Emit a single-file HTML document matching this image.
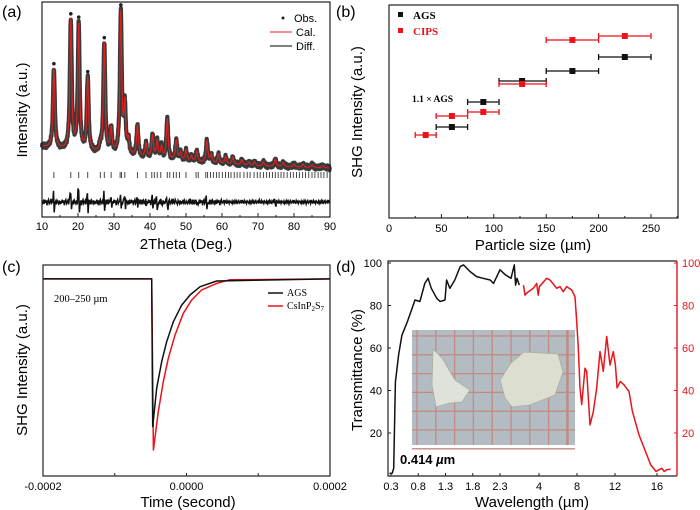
<!DOCTYPE html>
<html><head><meta charset="utf-8"><style>
html,body{margin:0;padding:0;background:#fff;width:700px;height:510px;overflow:hidden}
svg{display:block;font-family:"Liberation Sans",sans-serif}
.serif{font-family:"Liberation Serif",serif}
</style></head><body>
<svg id="fig" width="700" height="510" viewBox="0 0 700 510">
<g id="pa"></g>
<g id="pb"></g>
<g id="pc"></g>
<g id="pd"></g>
</svg>
<script>
// ---------- Panel (a) data ----------
const xrdBgTheta=[10,20,30,40,50,60,70,80,90];
const xrdBgInt=[70,65,62,58,55,53,51,50,49];
const xrdPeakPos=[13.3,18.0,20.2,22.7,26.2,27.3,29.2,31.9,33.0,34.0,36.5,38.9,40.7,42.0,43.2,44.8,47.3,48.5,50.0,51.5,53.0,55.8,57.0,59.0,61.0,63.0,65.5,67.5,69.0,71.5,74.8,77.0,80.0,82.5,85.0,88.0];
const xrdPeakAmp=[80,130,127,74,6,110,24,142,48,14,31,14,23,18,12,41,20,8,11,6,11,22,8,9,7,7,5,3,4,4,7,4,3,3,3,2];
const braggPos=[13.3,18.0,20.2,22.7,26.2,27.3,29.2,31.7,32.1,33.0,36.5,38.9,40.5,41.2,42.0,43.0,44.8,45.5,46.5,47.3,48.2,50.0,52.8,53.4,55.5,56.0,56.8,57.6,58.5,59.2,60.1,61.0,61.8,62.5,63.4,64.2,65.0,66.1,67.0,67.8,68.9,69.8,70.6,71.5,72.4,73.2,74.0,74.8,75.6,76.4,77.2,78.1,79.0,79.8,80.7,81.5,82.4,83.2,84.1,85.0,85.8,86.7,87.5,88.3,89.2];
const diffNoise=[2,-3,1,-2,3,-1,2,-4,1,3,-2,0,2,-3,4,-1,-2,3,-1,1,-3,2,0,-2];
const diffSpikeAmp=[8,6,8,6,0,5,2,6,3,0,2,1,3,4,1,3,1,0,1,0,1,3,0,0,0,0,0,0,0,0,2,0,0,0,0,0];

// ---------- Panel (b) data ----------
const agsSize=[60,90,127,175,225];
const agsLo=[45,75,105,150,200];
const agsHi=[75,105,150,200,250];
const agsShg=[91,116,137,147,161];
const cipsSize=[35,60,90,127,175,225];
const cipsLo=[25,45,75,105,150,200];
const cipsHi=[45,75,105,150,200,250];
const cipsShg=[83,102,106,134,178,182];
const bTicks=[0,50,100,150,200,250];

// ---------- Panel (c) data (time in microseconds) ----------
const agsTime=[-200,-48.5,-47.1,-41.5,-34.6,-27.6,-18.4,-6.7,4.9,18.9,42.1,200];
const agsSig=[0.934,0.934,0.234,0.416,0.542,0.637,0.731,0.810,0.858,0.897,0.924,0.934];
const cipsTime=[-200,-48.5,-46.2,-39.3,-32.3,-25.3,-16.0,-4.4,7.3,21.2,42.1,60,200];
const cipsSig=[0.934,0.934,0.123,0.305,0.447,0.558,0.668,0.771,0.834,0.882,0.913,0.930,0.934];
const cTickLabels=["-0.0002","0.0000","0.0002"];
const cTickVals=[-200,0,200];

// ---------- Panel (d) data ----------
const blackWl=[0.27,0.32,0.35,0.38,0.44,0.50,0.60,0.74,0.83,0.92,0.98,1.04,1.14,1.20,1.29,1.32,1.38,1.47,1.57,1.63,1.75,1.87,1.99,2.12,2.18,2.30,2.42,2.54,2.61,2.64,2.67,2.72];
const blackT=[1.0,1.0,3.4,44,56.7,66,72.4,82.6,81.9,90.4,92.8,88.1,83.4,81.9,82.6,92.0,88.1,92.0,98.3,99.1,96,93.6,92.8,92.0,90.4,96.8,94.4,92.8,99.1,89.6,92.8,89.6];
const redWl=[3.0,3.1,3.31,3.63,3.85,3.95,4.04,4.81,5.16,5.86,6.21,6.56,6.92,7.44,7.79,7.97,8.14,8.32,8.49,8.84,9.02,9.37,9.72,10.07,10.42,10.77,11.13,11.47,11.82,12.04,12.2,12.5,12.86,13.33,13.65,14.29,14.9,15.4,15.9,16.24,16.6,16.9,17.2,17.7];
const redT=[89.6,84.9,86.5,88.1,90.4,84.9,88.9,92.8,92,88.1,88.9,86.5,88.9,87.3,84.1,72.4,60,41.2,33.4,50.5,49,23.8,30,41.2,58.3,49,65.4,52,58.3,52,41.2,44.3,42.7,39.6,30.4,19.1,11.3,5,1.9,2.7,3.4,1.9,2.7,3];
const dTickLabels=["0.3","0.8","1.3","1.8","2.3","4","8","12","16"];
const dTickVals=[0.3,0.8,1.3,1.8,2.3,4,8,12,16];
const dYTicks=[20,40,60,80,100];

// ---------- helpers ----------
const NS="http://www.w3.org/2000/svg";
function mk(parent,tag,attrs,text){const e=document.createElementNS(NS,tag);for(const k in attrs)e.setAttribute(k,attrs[k]);if(text!==undefined)e.textContent=text;parent.appendChild(e);return e;}
function interp(xs,ys,x){if(x<=xs[0])return ys[0];for(let i=1;i<xs.length;i++){if(x<=xs[i]){const t=(x-xs[i-1])/(xs[i]-xs[i-1]);return ys[i-1]+t*(ys[i]-ys[i-1]);}}return ys[ys.length-1];}
function frame(g,x0,y0,x1,y1,name){const r=mk(g,'rect',{x:x0,y:y0,width:x1-x0,height:y1-y0,fill:'none',stroke:'#222','stroke-width':1.2});}
function txt(g,x,y,s,attrs,name){const t=mk(g,'text',Object.assign({x:x,y:y},attrs),s);return t;}

// ---------- Panel a ----------
(function(){
const g=document.getElementById('pa');
const X0=42,X1=330,Y0=2,Y1=217;
const sx=v=>X0+(v-10)/80*(X1-X0);
const sy=v=>Y1-v;
txt(g,2,17,'(a)',{'font-size':16},'panel-a-label');
function calc(th){let v=interp(xrdBgTheta,xrdBgInt,th);for(let i=0;i<xrdPeakPos.length;i++){const d=(th-xrdPeakPos[i])/0.42;v+=xrdPeakAmp[i]/(1+d*d*2.0);}return v;}
let pts=[],opts=[];let k=0;for(let th=10;th<=90.001;th+=0.08){const c=calc(th);pts.push(sx(th).toFixed(1)+','+sy(c).toFixed(1));opts.push(sx(th).toFixed(1)+','+(sy(c)+diffNoise[k%diffNoise.length]*0.6).toFixed(1));k++;}
const obs=mk(g,'polyline',{points:opts.join(' '),fill:'none',stroke:'#3a3a3a','stroke-width':4.2,'stroke-linejoin':'round'});

for(let i=0;i<xrdPeakPos.length;i++){if(xrdPeakAmp[i]>60){const c=mk(g,'circle',{cx:sx(xrdPeakPos[i]),cy:sy(calc(xrdPeakPos[i]))-4,r:1.8,fill:'#222'});}}
const cal=mk(g,'polyline',{points:pts.join(' '),fill:'none',stroke:'#e02020','stroke-width':1.1});

braggPos.forEach(p=>{const l=mk(g,'line',{x1:sx(p),x2:sx(p),y1:172,y2:178,stroke:'#333','stroke-width':0.9});});
let dp=[];k=0;for(let th=10;th<=90.001;th+=0.2){let v=diffNoise[k%diffNoise.length]*(th<60?0.8:0.5);k++;for(let i=0;i<xrdPeakPos.length;i++){const d=th-xrdPeakPos[i];if(Math.abs(d)<0.25)v+=(d<0?1:-1)*diffSpikeAmp[i]*1.6;}dp.push(sx(th).toFixed(1)+','+(202-v).toFixed(1));}
const diff=mk(g,'polyline',{points:dp.join(' '),fill:'none',stroke:'#111','stroke-width':1.5});

frame(g,X0,Y0,X1,Y1,'panel-a-plot-frame');
for(let v=10;v<=90;v+=5){const l=mk(g,'line',{x1:sx(v),x2:sx(v),y1:Y1,y2:Y1-(v%10?2:4),stroke:'#222'});
 if(v%10===0)txt(g,sx(v),230,String(v),{'font-size':11,'text-anchor':'middle'},'x-tick-label');}
txt(g,186,249,'2Theta (Deg.)',{'font-size':15,'text-anchor':'middle'},'x-axis-title');
txt(g,0,0,'Intensity (a.u.)',{'font-size':15,'text-anchor':'middle',transform:'translate(27,110) rotate(-90)'},'y-axis-title');
const lg=mk(g,'g',{});
const ld=mk(lg,'circle',{cx:283,cy:18,r:1.5,fill:'#222'});
txt(lg,294,22,'Obs.',{'font-size':11},'legend-obs');
const l2=mk(lg,'line',{x1:270,x2:292,y1:32,y2:32,stroke:'#e02020'});
txt(lg,296,36,'Cal.',{'font-size':11},'legend-cal');
const l3=mk(lg,'line',{x1:270,x2:292,y1:46,y2:46,stroke:'#333','stroke-width':1.2});
txt(lg,296,50,'Diff.',{'font-size':11},'legend-diff');
})();

// ---------- Panel b ----------
(function(){
const g=document.getElementById('pb');
const X0=389,X1=678,Y0=5,Y1=218;
const sx=v=>X0+v/250*(651-X0);
const sy=v=>Y1-v;
txt(g,336,17,'(b)',{'font-size':16},'panel-b-label');
frame(g,X0,Y0,X1,Y1,'panel-b-plot-frame');
for(let v=0;v<=275;v+=25){const l=mk(g,'line',{x1:sx(v),x2:sx(v),y1:Y1,y2:Y1-(v%50?2:4),stroke:'#222'});}
bTicks.forEach(v=>txt(g,sx(v),232,String(v),{'font-size':11,'text-anchor':'middle'},'x-tick-label'));
txt(g,533,250,'Particle size (\u00b5m)',{'font-size':15,'text-anchor':'middle'},'x-axis-title');
txt(g,0,0,'SHG Intensity (a.u.)',{'font-size':15,'text-anchor':'middle',transform:'translate(362,112) rotate(-90)'},'y-axis-title');
function series(sz,lo,hi,val,col,name){
 for(let i=0;i<sz.length;i++){const y=sy(val[i]);
  const h=mk(g,'line',{x1:sx(lo[i]),x2:sx(hi[i]),y1:y,y2:y,stroke:col,'stroke-width':1.3});
  [lo[i],hi[i]].forEach(e=>{const c=mk(g,'line',{x1:sx(e),x2:sx(e),y1:y-3,y2:y+3,stroke:col,'stroke-width':1.3});});
  const r=mk(g,'rect',{x:sx(sz[i])-3,y:y-3,width:6,height:6,fill:col});}
}
series(agsSize,agsLo,agsHi,agsShg,'#111','ags');
series(cipsSize,cipsLo,cipsHi,cipsShg,'#e8141a','cips');
const s1=mk(g,'rect',{x:398,y:12,width:5,height:5,fill:'#111'});
txt(g,413,19,'AGS',{'font-size':11,'font-weight':'bold','class':'serif'},'legend-ags');
const s2=mk(g,'rect',{x:398,y:28,width:5,height:5,fill:'#e8141a'});
txt(g,413,35,'CIPS',{'font-size':11,'font-weight':'bold','fill':'#e8141a','class':'serif'},'legend-cips');
txt(g,412,102,'1.1 \u00d7 AGS',{'font-size':9.5,'font-weight':'bold','class':'serif'},'annotation-1-1-ags');
})();

// ---------- Panel c ----------
(function(){
const g=document.getElementById('pc');
const X0=43,X1=330,Y0=265,Y1=476;
const sx=v=>X0+(v+200)/400*(X1-X0);
const sy=v=>Y1-v*(Y1-Y0);
txt(g,2,272,'(c)',{'font-size':16},'panel-c-label');
function line(ts,vs,col,name){const p=ts.map((t,i)=>sx(t).toFixed(1)+','+sy(vs[i]).toFixed(1)).join(' ');const l=mk(g,'polyline',{points:p,fill:'none',stroke:col,'stroke-width':1.5,'stroke-linejoin':'round'});}
line(cipsTime,cipsSig,'#e8141a','cips-series');
line(agsTime,agsSig,'#111','ags-series');
frame(g,X0,Y0,X1,Y1,'panel-c-plot-frame');
for(let v=-200;v<=200;v+=100){const l=mk(g,'line',{x1:sx(v),x2:sx(v),y1:Y1,y2:Y1-3,stroke:'#222'});}
cTickVals.forEach((v,i)=>txt(g,sx(v),490,cTickLabels[i],{'font-size':11,'text-anchor':'middle'},'x-tick-label'));
txt(g,188,507,'Time (second)',{'font-size':15,'text-anchor':'middle'},'x-axis-title');
txt(g,0,0,'SHG Intensity (a.u.)',{'font-size':15,'text-anchor':'middle',transform:'translate(27,370) rotate(-90)'},'y-axis-title');
txt(g,54,302,'200\u2013250 \u00b5m',{'font-size':10.5,'class':'serif'},'size-annotation');
const a=mk(g,'line',{x1:268,x2:283,y1:293,y2:293,stroke:'#111','stroke-width':1.5});
txt(g,287,296,'AGS',{'font-size':10,'class':'serif'},'legend-ags');
const b=mk(g,'line',{x1:268,x2:283,y1:306,y2:306,stroke:'#e8141a','stroke-width':1.5});
const t=txt(g,287,309,'',{'font-size':10,'class':'serif'},'legend-csinp2s7');
t.innerHTML='CsInP<tspan font-size="7" dy="2">2</tspan><tspan dy="-2">S</tspan><tspan font-size="7" dy="2">7</tspan>';
})();

// ---------- Panel d ----------
(function(){
const g=document.getElementById('pd');
const X0=388,X1=677,Y0=261,Y1=476;
const mapW=[0.245,0.3,2.3,2.8,3,4,8,12,16,18.5];
const mapX=[388,391,500,523,523.5,539,577,615,657,677];
const sx=v=>interp(mapW,mapX,v);
const sy=v=>475.5-v*2.125;
txt(g,336,272,'(d)',{'font-size':16},'panel-d-label');
// inset photo
const ph=mk(g,'g',{});
mk(ph,'rect',{x:412,y:330,width:163,height:115,fill:'#b3bcc2'});
for(let i=0;i<9;i++){mk(ph,'line',{x1:417+i*18.8,x2:417+i*18.8,y1:330,y2:445,stroke:'#c28a82','stroke-width':i===8?2.5:1.3});}
for(let j=0;j<7;j++){mk(ph,'line',{x1:412,x2:575,y1:336+j*18.8,y2:336+j*18.8,stroke:'#c28a82','stroke-width':1.3});}
const c1=mk(ph,'polygon',{points:'433,349 442,358 455,380 470,390 462,402 450,403 436,407 432,385',fill:'#dfe2da',stroke:'#a9ae9f','stroke-width':0.8});
const c2=mk(ph,'polygon',{points:'524,352 558,354 563,372 555,395 530,405 512,407 505,398 500,380 511,363',fill:'#dcdfd0',stroke:'#a9ae9f','stroke-width':0.8});
function line(ws,ts,col,name){const p=ws.map((w,i)=>sx(w).toFixed(1)+','+sy(ts[i]).toFixed(1)).join(' ');const l=mk(g,'polyline',{points:p,fill:'none',stroke:col,'stroke-width':1.5,'stroke-linejoin':'round'});}
line(blackWl,blackT,'#111','transmittance-uv-nir-series');
line(redWl,redT,'#e8141a','transmittance-ir-series');
const r=mk(g,'path',{d:`M${X1},${Y0} H${X0} V${Y1} H${X1}`,fill:'none',stroke:'#222','stroke-width':1.2});
const ra=mk(g,'line',{x1:X1,x2:X1,y1:Y0,y2:Y1,stroke:'#e8141a','stroke-width':1.4});
dYTicks.forEach(v=>{const y=sy(v);
 const l=mk(g,'line',{x1:X0,x2:X0+3,y1:y,y2:y,stroke:'#222'});
 txt(g,X0-6,y+4,String(v),{'font-size':11,'text-anchor':'end'},'y-tick-label');
 const l2=mk(g,'line',{x1:X1-3,x2:X1,y1:y,y2:y,stroke:'#e8141a'});
 txt(g,X1+5,y+4,String(v),{'font-size':11,fill:'#e8141a'},'right-y-tick-label');});
dTickVals.forEach((v,i)=>{const l=mk(g,'line',{x1:sx(v),x2:sx(v),y1:Y1,y2:Y1-3,stroke:'#222'});
 txt(g,sx(v),490,dTickLabels[i],{'font-size':11,'text-anchor':'middle'},'x-tick-label');});
txt(g,532,507,'Wavelength (\u00b5m)',{'font-size':15,'text-anchor':'middle'},'x-axis-title');
txt(g,0,0,'Transmittance (%)',{'font-size':15,'text-anchor':'middle',transform:'translate(362,370) rotate(-90)'},'y-axis-title');
const ann=txt(g,400,464,'',{'font-size':13,'font-weight':'bold'},'band-edge-annotation');
ann.innerHTML='0.414 <tspan font-style="italic">\u00b5</tspan>m';
})();
</script>
</body></html>
